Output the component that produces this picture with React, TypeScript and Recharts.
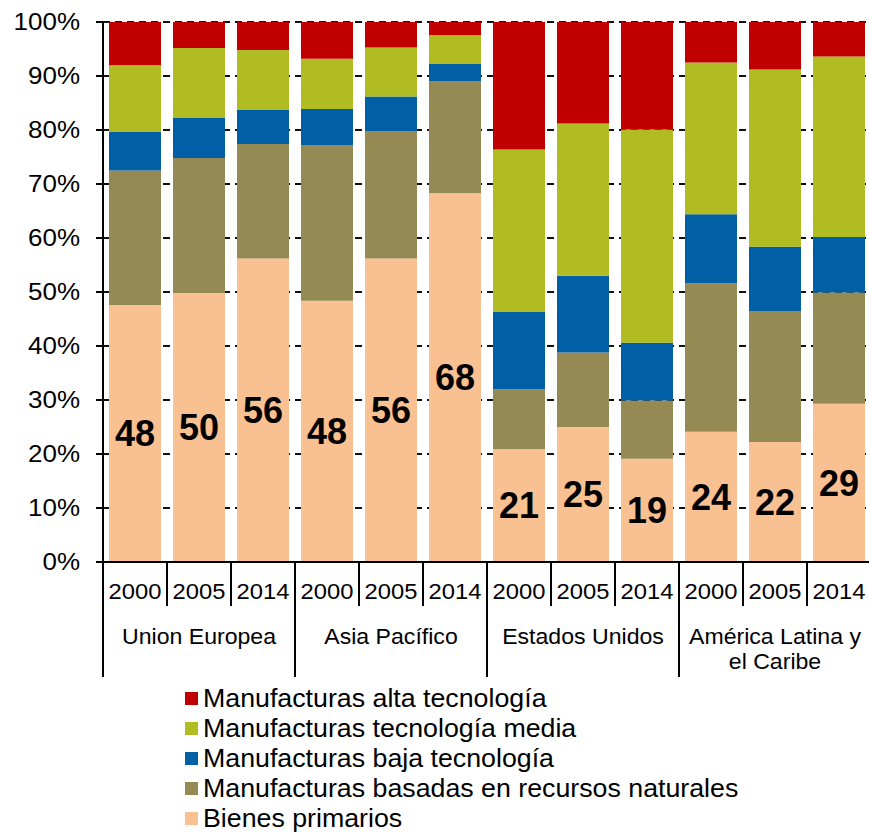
import { BarChart, Bar, XAxis, YAxis, CartesianGrid, Legend, LabelList } from 'recharts';

const years = ['2000', '2005', '2014', '2000', '2005', '2014', '2000', '2005', '2014', '2000', '2005', '2014'];
const regions = [['Union Europea'], ['Asia Pacífico'], ['Estados Unidos'], ['América Latina y', 'el Caribe']];

// shares in % (stacked bottom to top)
const bienesPrimarios = [47.6, 49.8, 56.2, 48.4, 56.2, 68.3, 20.9, 25.0, 19.1, 24.1, 22.2, 29.3];
const recursosNaturales = [24.9, 25.0, 21.2, 28.8, 23.6, 20.7, 11.1, 13.8, 10.8, 27.5, 24.3, 20.6];
const bajaTecnologia = [7.2, 7.4, 6.3, 6.7, 6.4, 3.2, 14.3, 14.2, 10.7, 12.8, 11.9, 10.3];
const mediaTecnologia = [12.3, 13.0, 11.1, 9.3, 9.1, 5.4, 30.1, 28.2, 39.5, 28.1, 32.8, 33.4];
const altaTecnologia = [8.0, 4.8, 5.2, 6.8, 4.7, 2.4, 23.6, 18.8, 19.9, 7.5, 8.8, 6.4];

const yTicks = [0, 10, 20, 30, 40, 50, 60, 70, 80, 90, 100];

const series = [
  { key: 'primarios', name: 'Bienes primarios', color: '#F9C091' },
  { key: 'recursos', name: 'Manufacturas basadas en recursos naturales', color: '#958A54' },
  { key: 'baja', name: 'Manufacturas baja tecnología', color: '#005FA5' },
  { key: 'media', name: 'Manufacturas tecnología media', color: '#B1BC22' },
  { key: 'alta', name: 'Manufacturas alta tecnología', color: '#C00000' },
];

const data = years.map((year, i) => ({
  year,
  primarios: bienesPrimarios[i],
  recursos: recursosNaturales[i],
  baja: bajaTecnologia[i],
  media: mediaTecnologia[i],
  alta: altaTecnologia[i],
}));

const FONT = '"Liberation Sans", Arial, sans-serif';
const W = 872;
const H = 832;
const margin = { top: 22, right: 1, bottom: 140, left: 0 };
const yAxisWidth = 103;
const step = (W - margin.left - margin.right - yAxisWidth) / years.length;

function YTick({ x, y, payload }: any) {
  return (
    <g transform={`translate(${x - 16},${y})`}>
      <text transform="scale(1.13,1)" textAnchor="end" dy="0.36em" fontSize={23} fontFamily={FONT} fill="#000">
        {payload.value}%
      </text>
    </g>
  );
}

function XTick({ x, y, payload, index }: any) {
  const left = x - step / 2;
  const right = x + step / 2;
  const isGroupStart = index % 3 === 0;
  const region = index % 3 === 1 ? regions[Math.floor(index / 3)] : null;
  return (
    <g>
      <line x1={left} x2={left} y1={y} y2={y + (isGroupStart ? 115 : 44)} stroke="#000" strokeWidth={2} />
      {index === years.length - 1 && (
        <line x1={right} x2={right} y1={y} y2={y + 115} stroke="#000" strokeWidth={2} />
      )}
      <g transform={`translate(${x},${y + 37})`}>
        <text transform="scale(1.08,1)" textAnchor="middle" fontSize={22} fontFamily={FONT} fill="#000">
          {payload.value}
        </text>
      </g>
      {region &&
        region.map((line, j) => (
          <g key={j} transform={`translate(${x},${y + 82 + j * 25})`}>
            <text transform="scale(1.05,1)" textAnchor="middle" fontSize={22} fontFamily={FONT} fill="#000">
              {line}
            </text>
          </g>
        ))}
    </g>
  );
}

function LegendBox() {
  const rows = [...series].reverse();
  return (
    <div style={{ fontFamily: FONT }}>
      {rows.map((s) => (
        <div key={s.key} style={{ display: 'flex', alignItems: 'center', height: 30 }}>
          <span style={{ width: 13, height: 13, background: s.color, marginRight: 5, flex: 'none' }} />
          <span
            style={{
              fontSize: 25,
              lineHeight: 1,
              color: '#000',
              whiteSpace: 'nowrap',
              transform: 'scaleX(1.07)',
              transformOrigin: 'left center',
            }}
          >
            {s.name}
          </span>
        </div>
      ))}
    </div>
  );
}

export default function App() {
  return (
    <div style={{ position: 'absolute', left: 0, top: 0, width: 869, height: H, overflow: 'hidden', background: '#fff' }}>
      <BarChart width={W} height={H} data={data} margin={margin} barCategoryGap={6}>
        <CartesianGrid vertical={false} stroke="#111" strokeWidth={2} strokeDasharray="7 5" />
        <XAxis
          dataKey="year"
          interval={0}
          tickSize={0}
          tickMargin={0}
          height={130}
          axisLine={{ stroke: '#000', strokeWidth: 2 }}
          tickLine={false}
          tick={<XTick />}
        />
        <YAxis
          type="number"
          domain={[0, 100]}
          ticks={yTicks}
          width={yAxisWidth}
          tickSize={7}
          tickMargin={0}
          axisLine={{ stroke: '#000', strokeWidth: 2 }}
          tickLine={{ stroke: '#000', strokeWidth: 2 }}
          tick={<YTick />}
        />
        {series.map((s) => (
          <Bar key={s.key} dataKey={s.key} name={s.name} stackId="a" fill={s.color} isAnimationActive={false}>
            {s.key === 'primarios' && (
              <LabelList
                dataKey="primarios"
                position="center"
                formatter={(v: any) => Math.round(Number(v))}
                style={{ fontSize: 36, fontWeight: 'bold', fontFamily: FONT, fill: '#000' }}
              />
            )}
          </Bar>
        ))}
        <Legend
          layout="horizontal"
          verticalAlign="middle"
          align="center"
          content={<LegendBox />}
          wrapperStyle={{ position: 'absolute', left: 185, top: 683, width: 'auto' }}
        />
      </BarChart>
    </div>
  );
}
